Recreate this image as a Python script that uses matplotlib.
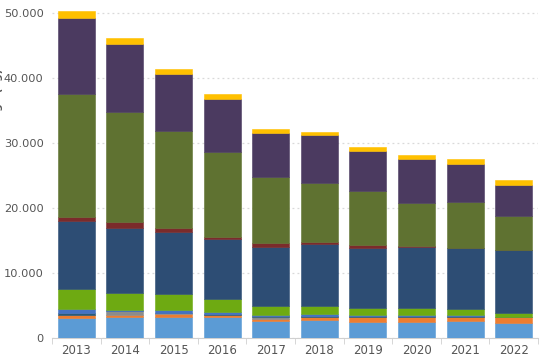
import matplotlib
matplotlib.use("Agg")
import matplotlib.pyplot as plt
import numpy as np
from matplotlib.ticker import FuncFormatter

years = ["2013", "2014", "2015", "2016", "2017", "2018", "2019", "2020", "2021", "2022"]

light_blue = [3130, 3280, 3300, 3300, 2660, 2720, 2500, 2500, 2560, 2300]
orange     = [410, 220, 350, 250, 340, 480, 700, 700, 640, 880]
gray       = [0, 700, 150, 0, 200, 0, 0, 0, 0, 0]
teal       = [260, 0, 100, 150, 200, 150, 150, 150, 150, 50]
steel      = [600, 100, 400, 300, 140, 300, 230, 190, 190, 50]
green      = [3100, 2700, 2500, 1950, 1430, 1320, 1080, 1120, 860, 620]
dark_blue  = [10500, 9900, 9550, 9250, 9080, 9530, 9240, 9340, 9400, 9600]
dark_red   = [660, 900, 550, 300, 550, 200, 400, 200, 100, 100]
olive      = [18940, 16900, 14900, 13100, 10100, 9200, 8300, 6600, 7100, 5200]
purple     = [11600, 10500, 8800, 8200, 6800, 7300, 6200, 6800, 5700, 4800]
yellow     = [1100, 1000, 800, 800, 600, 550, 600, 550, 800, 700]

series = [light_blue, orange, gray, teal, steel, green, dark_blue, dark_red, olive, purple, yellow]
colors = ["#5B9BD5", "#ED7D31", "#8C8C8C", "#2A5A78", "#4472C4", "#6EAA12",
          "#2D4D74", "#7B2B2B", "#5F7231", "#4B3A60", "#FFC000"]

fig = plt.figure(figsize=(5.4, 3.6), dpi=100)
ax = fig.add_axes([0.0963, 0.061, 0.9, 0.921])

x = np.arange(len(years))
bottom = np.zeros(len(years))
for vals, c in zip(series, colors):
    v = np.array(vals, dtype=float)
    ax.bar(x, v, bottom=bottom, width=0.76, color=c, edgecolor=c, linewidth=0.4, zorder=3)
    bottom += v

ax.set_xlim(-0.5, len(years) - 0.5)
ax.set_ylim(0, 51000)
ax.set_yticks(np.arange(0, 50001, 10000))
ax.yaxis.set_major_formatter(FuncFormatter(lambda v, p: f"{int(v):,}".replace(",", ".")))
ax.yaxis.grid(True, linestyle=(0, (1.5, 2.5)), color="#D9D9D9", linewidth=0.9, zorder=0)
for s in ["top", "right", "left"]:
    ax.spines[s].set_visible(False)
ax.spines["bottom"].set_color("#D0D0D0")
ax.tick_params(axis="y", length=0, labelsize=8.2, labelcolor="#555555", pad=6)
ax.set_xticks(x)
ax.set_xticklabels(years)
ax.set_xticks(np.arange(-0.5, len(years), 1), minor=True)
ax.tick_params(axis="x", which="major", length=0, labelsize=8.5, labelcolor="#555555", pad=4)
ax.tick_params(axis="x", which="minor", length=4, color="#D0D0D0")

fig.text(-0.004, 0.64, "Wirkstoffmenge (kg)", rotation=90, ha="center", va="center",
         fontsize=7.5, color="#555555", fontweight="bold")

fig.savefig("out.png", dpi=100)
